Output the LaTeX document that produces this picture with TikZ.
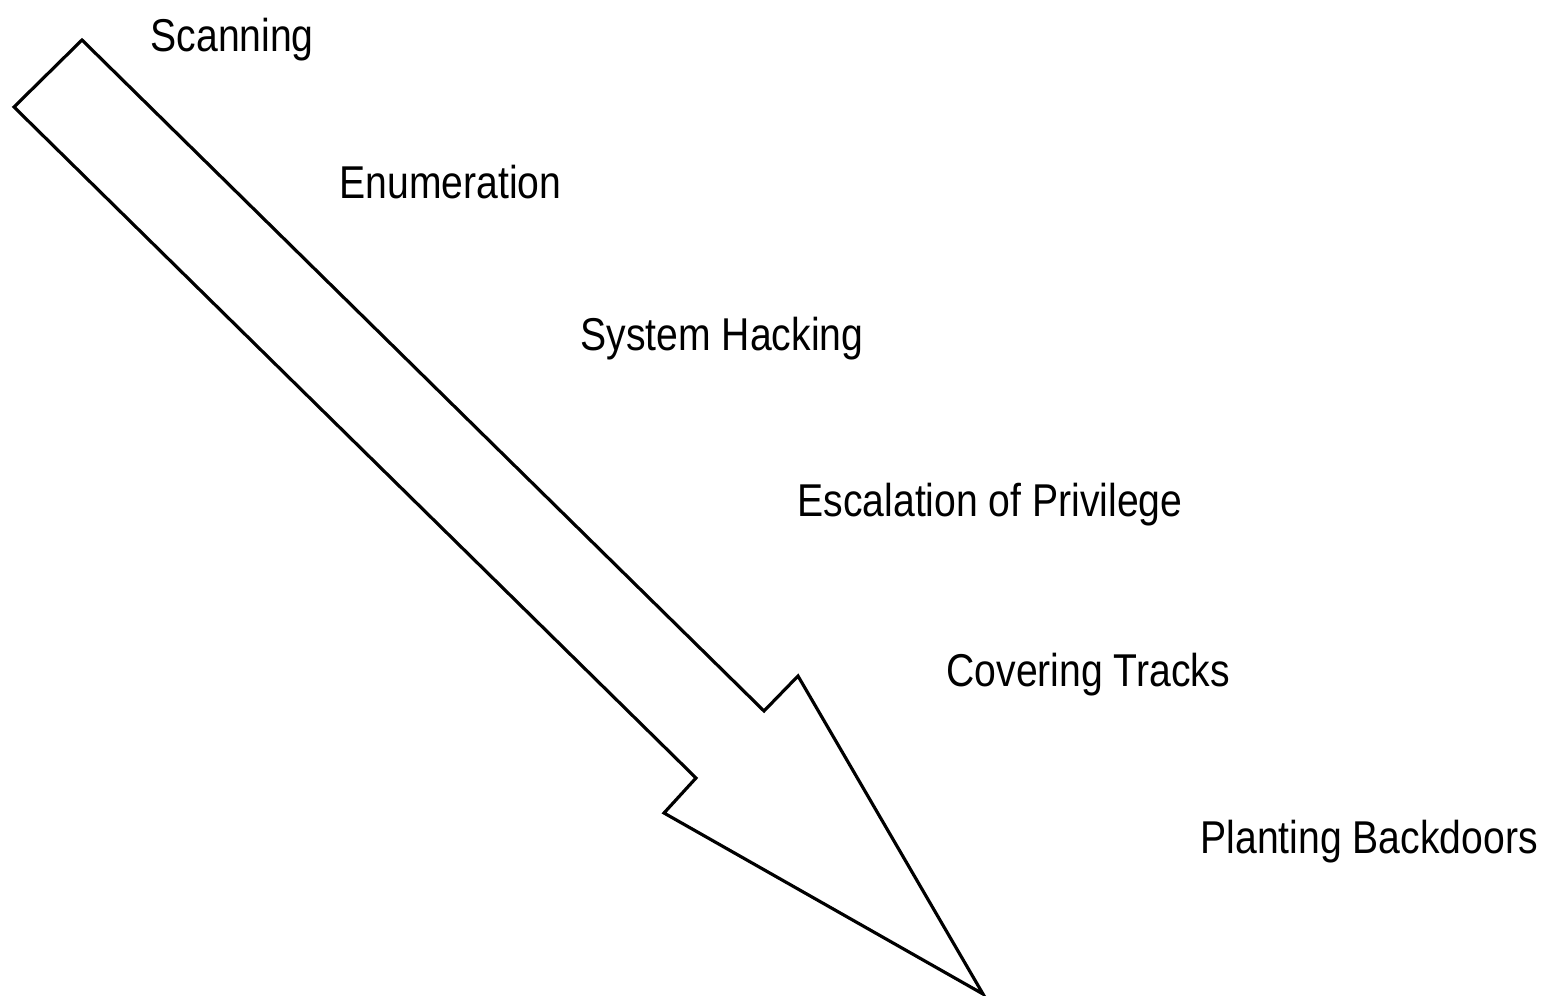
\documentclass[tikz,border=0pt]{standalone}
\usepackage{fontspec}
\setmainfont[FakeStretch=0.85]{Liberation Sans}
\usepackage{tikz}

\begin{document}
\begin{tikzpicture}[x=0.02cm, y=-0.02cm, line width=1.8pt, line join=miter,
  phase/.style={anchor=base west, inner sep=0pt, font=\fontsize{26.2}{30}\selectfont}]
  \useasboundingbox (0, 0) rectangle (1548, 996);

  \coordinate (tr) at (82, 40);
  \coordinate (tl) at (14, 107);
  \coordinate (ri) at (764, 711);
  \coordinate (ro) at (798, 676);
  \coordinate (tip) at (983, 994);
  \coordinate (lo) at (664, 813);
  \coordinate (li) at (696, 778);

  \draw (tr) -- (ri) -- (ro) -- (tip) -- (lo) -- (li) -- (tl) -- cycle;

  \node[phase] (scan) at (149, 52) {Scanning};
  \node[phase] (enum) at (338, 199) {Enumeration};
  \node[phase] (hack) at (579, 351) {System Hacking};
  \node[phase] (priv) at (796, 517) {Escalation of Privilege};
  \node[phase] (track) at (945, 686) {Covering Tracks};
  \node[phase] (door) at (1199, 853) {Planting Backdoors};
\end{tikzpicture}
\end{document}
